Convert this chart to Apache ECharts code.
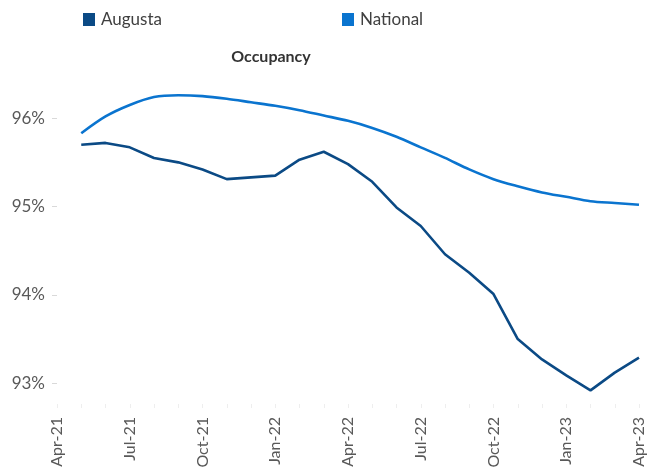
<!DOCTYPE html>
<html><head><meta charset="utf-8">
<script src="https://cdn.jsdelivr.net/npm/echarts@6/dist/echarts.min.js"></script>
<style>html,body{margin:0;padding:0;background:#fff}#c{width:647px;height:475px}</style>
</head><body><div id="c"></div>
<script>
const categories = ["Apr-21","May-21","Jun-21","Jul-21","Aug-21","Sep-21","Oct-21","Nov-21","Dec-21","Jan-22","Feb-22","Mar-22","Apr-22","May-22","Jun-22","Jul-22","Aug-22","Sep-22","Oct-22","Nov-22","Dec-22","Jan-23","Feb-23","Mar-23","Apr-23"];
const augusta = [null,95.70,95.72,95.67,95.55,95.50,95.42,95.31,95.33,95.35,95.53,95.62,95.48,95.28,94.99,94.78,94.46,94.25,94.01,93.50,93.27,93.09,92.92,93.12,93.29];
const national = [null,95.83,96.02,96.15,96.24,96.26,96.25,96.22,96.18,96.14,96.09,96.03,95.97,95.89,95.79,95.67,95.55,95.42,95.31,95.23,95.16,95.11,95.06,95.04,95.02];
const yTicks = [93,94,95,96];

const font = 'Lato, "Open Sans", sans-serif';
const chart = echarts.init(document.getElementById('c'), null, {renderer:'canvas'});
chart.setOption({
  animation:false,
  title:{text:'Occupancy',left:266,textAlign:'center',top:44,textStyle:{fontFamily:font,fontSize:16,fontWeight:'bold',color:'#333'}},
  legend:{left:78,top:6,itemWidth:12,itemHeight:13,itemGap:180,icon:'rect',
    textStyle:{fontFamily:font,fontSize:17,color:'#404040',padding:[0,0,0,1]},
    data:['Augusta','National']},
  grid:{left:57,right:8,top:74,bottom:67},
  xAxis:{type:'category',data:categories,boundaryGap:false,
    axisLine:{show:false},
    axisTick:{show:true,inside:true,length:4,interval:0,lineStyle:{color:'#eeeeee'}},
    axisLabel:{rotate:90,interval:2,margin:9,fontFamily:font,fontSize:16,color:'#595959'},
    splitLine:{show:false}},
  yAxis:{type:'value',min:92.72,max:96.5,
    axisLine:{show:false},
    axisTick:{show:true,length:5,customValues:yTicks,lineStyle:{color:'#d9d9d9'}},
    axisLabel:{customValues:yTicks,margin:12,fontFamily:font,fontSize:17,color:'#595959',formatter:v=>Math.round(v)+'%'},
    splitLine:{show:false}},
  series:[
    {name:'Augusta',type:'line',data:augusta,symbol:'none',lineStyle:{width:2.6,color:'#0B4A85'},itemStyle:{color:'#0B4A85'}},
    {name:'National',type:'line',data:national,symbol:'none',smooth:0.3,lineStyle:{width:2.6,color:'#0A74CF'},itemStyle:{color:'#0A74CF'}}
  ]
});
</script></body></html>
